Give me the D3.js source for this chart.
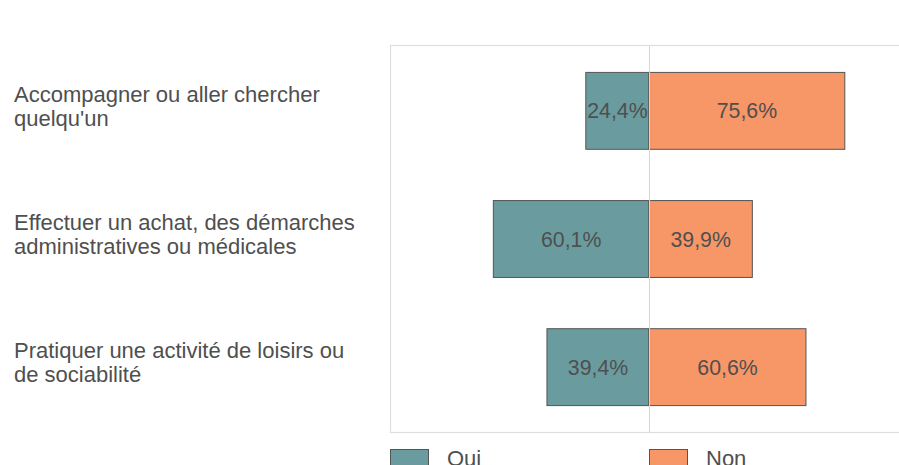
<!DOCTYPE html>
<html><head><meta charset="utf-8">
<script src="https://cdn.jsdelivr.net/npm/d3@7"></script>
<style>
html,body{margin:0;padding:0;background:#fff;overflow:hidden;}
svg{display:block;font-family:"Liberation Sans",Arial,sans-serif;}
</style></head>
<body>
<svg id="chart" width="899" height="465"></svg>
<script>
const categories = [
  "Accompagner ou aller chercher\nquelqu'un",
  "Effectuer un achat, des démarches\nadministratives ou médicales",
  "Pratiquer une activité de loisirs ou\nde sociabilité"
];
const seriesNames = ["Oui", "Non"];
const oui = [24.4, 60.1, 39.4];
const non = [75.6, 39.9, 60.6];
const colors = ["#6a9c9f", "#f79667"];

const svg = d3.select("#chart");
const plot = {left: 390, top: 45.5, bottom: 432.5};
const x = d3.scaleLinear().domain([-100, 100]).range([390, 908]);
const y = d3.scaleBand().domain(d3.range(categories.length))
  .range([plot.top, plot.bottom]).paddingInner(0.4).paddingOuter(0.21);

const fmt = v => d3.format(".1f")(v).replace(".", ",") + "%";
const textColor = "#4f4f4f";
const fsVal = 21.3, fsCat = 22;

// frame
svg.append("rect").attr("x", plot.left + 0.5).attr("y", plot.top)
  .attr("width", 1000).attr("height", plot.bottom - plot.top)
  .attr("fill", "none").attr("stroke", "#dedede").attr("stroke-width", 1.2);

// bars
const g = svg.append("g");
categories.forEach((c, i) => {
  const yy = y(i), bh = y.bandwidth();
  g.append("rect").attr("x", x(-oui[i])).attr("y", yy)
    .attr("width", x(0) - x(-oui[i])).attr("height", bh)
    .attr("fill", colors[0]).attr("stroke", "#555").attr("stroke-width", 1);
  g.append("rect").attr("x", x(0)).attr("y", yy)
    .attr("width", x(non[i]) - x(0)).attr("height", bh)
    .attr("fill", colors[1]).attr("stroke", "#555").attr("stroke-width", 1);
});

// zero line
svg.append("line").attr("x1", Math.round(x(0)) + 0.5).attr("x2", Math.round(x(0)) + 0.5)
  .attr("y1", plot.top).attr("y2", plot.bottom)
  .attr("stroke", "#d6d6d6").attr("stroke-width", 1);

// value labels
categories.forEach((c, i) => {
  const cy = y(i) + y.bandwidth() / 2;
  svg.append("text").attr("x", (x(-oui[i]) + x(0)) / 2).attr("y", cy + 7.6)
    .attr("text-anchor", "middle").attr("font-size", fsVal).attr("fill", textColor)
    .text(fmt(oui[i]));
  svg.append("text").attr("x", (x(non[i]) + x(0)) / 2).attr("y", cy + 7.6)
    .attr("text-anchor", "middle").attr("font-size", fsVal).attr("fill", textColor)
    .text(fmt(non[i]));
});

// category labels
categories.forEach((c, i) => {
  const cy = y(i) + y.bandwidth() / 2;
  const lines = c.split("\n");
  const t = svg.append("text").attr("x", 14).attr("font-size", fsCat).attr("fill", textColor);
  lines.forEach((l, k) => {
    t.append("tspan").attr("x", 14).attr("y", cy - 9 + k * 24).text(l);
  });
});

// legend
const legX = [390, 649];
seriesNames.forEach((s, i) => {
  svg.append("rect").attr("x", legX[i] + 0.5).attr("y", 449.5)
    .attr("width", 38).attr("height", 30)
    .attr("fill", colors[i]).attr("stroke", "#555").attr("stroke-width", 1);
  svg.append("text").attr("x", legX[i] + 57).attr("y", 466)
    .attr("font-size", fsCat).attr("fill", textColor).text(s);
});
</script>
</body></html>
